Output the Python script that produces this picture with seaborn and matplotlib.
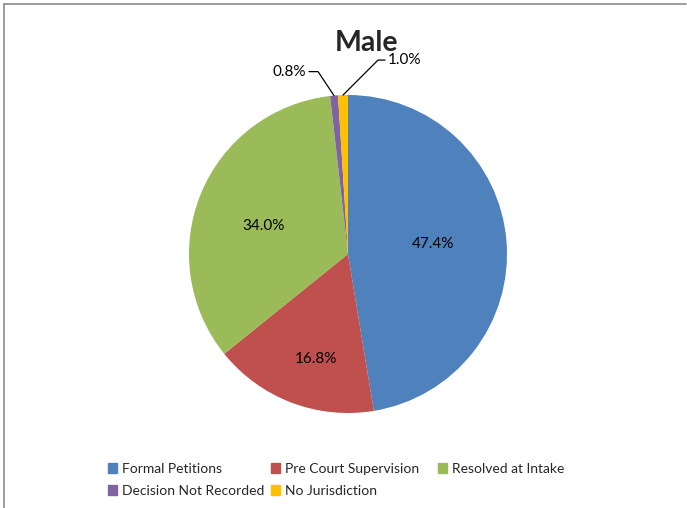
import numpy as np
import seaborn as sns
from matplotlib import pyplot as plt
from matplotlib.lines import Line2D

categories = ['Formal Petitions', 'Pre Court Supervision', 'Resolved at Intake',
              'Decision Not Recorded', 'No Jurisdiction']
shares = [47.4, 16.8, 34.0, 0.8, 1.0]
colors = ['#4F81BD', '#C0504D', '#9BBB59', '#8064A2', '#FFC000']
title = 'Male'

sns.set_style('white')
plt.rcParams['font.family'] = ['Lato', 'DejaVu Sans']

W, H = 687, 508
fig = plt.figure(figsize=(W / 100, H / 100), dpi=100)
ax = fig.add_axes([0, 0, 1, 1])

cx, cy, r = 348, 254, 159
wedges, _ = ax.pie(shares, colors=colors, startangle=90, counterclock=False,
                   center=(cx, cy), radius=r, frame=True,
                   wedgeprops=dict(linewidth=0))
ax.set_xlim(0, W)
ax.set_ylim(0, H)
ax.set_aspect('equal')
ax.axis('off')

# inside labels for the large slices (distance, angle nudge in degrees)
inside_pos = [(0.54, 2), (0.69, 4), (0.56, 4)]
for w, val, (d, nudge) in zip(wedges[:3], shares[:3], inside_pos):
    ang = np.deg2rad((w.theta1 + w.theta2) / 2 + nudge)
    ax.text(cx + d * r * np.cos(ang), cy + d * r * np.sin(ang), f'{val:.1f}%',
            ha='center', va='center', fontsize=11, color='black')

# outside labels with leader lines for the tiny slices
leaders = [((-16, 24), -9, 'right'), ((35, 35), 7, 'left')]
for w, val, ((dx, dy), tail, ha) in zip(wedges[3:], shares[3:], leaders):
    ang = np.deg2rad((w.theta1 + w.theta2) / 2)
    x0, y0 = cx + r * np.cos(ang), cy + r * np.sin(ang)
    ex, ey = x0 + dx, y0 + dy
    ax.plot([x0, ex, ex + tail], [y0, ey, ey], color='black', lw=0.9)
    ax.text(ex + tail + np.sign(tail) * 3, ey, f'{val:.1f}%', ha=ha, va='center',
            fontsize=11, color='black')

fig.text(367 / W, 1 - 43 / H, title, ha='center', va='center',
         fontsize=20.5, fontweight='bold')

# legend: three single-column legends to mimic the row-major layout
handles = [plt.Rectangle((0, 0), 1, 1, color=c) for c in colors]
columns = [([0, 3], 108), ([1, 4], 271), ([2], 438)]
for idx, x in columns:
    fig.legend([handles[i] for i in idx], [categories[i] for i in idx],
               loc='upper left', bbox_to_anchor=(x / W, 1 - 463 / H),
               frameon=False, fontsize=10, handlelength=0.65, handleheight=0.65,
               handletextpad=0.35, labelspacing=0.72, borderpad=0, borderaxespad=0)

# chart border (top and left)
fig.add_artist(Line2D([4 / W, 686 / W], [1 - 4 / H, 1 - 4 / H], color='#8c8c8c', lw=1.2))
fig.add_artist(Line2D([4 / W, 4 / W], [1 - 4 / H, 0], color='#8c8c8c', lw=1.2))

fig.savefig('out.png', dpi=100)
